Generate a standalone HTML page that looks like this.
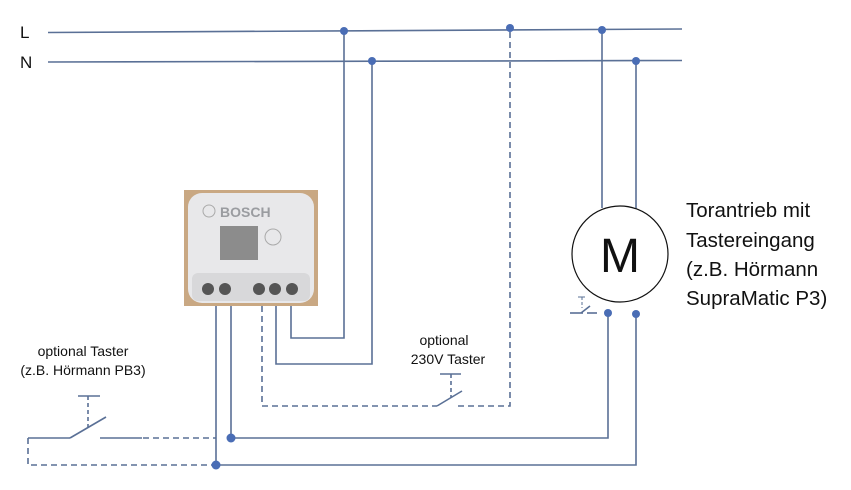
<!DOCTYPE html>
<html><head><meta charset="utf-8"><style>
html,body{margin:0;padding:0;background:#fff;width:851px;height:490px;overflow:hidden}
svg{display:block}
text{font-family:"Liberation Sans",sans-serif;fill:#111}
</style></head><body>
<svg width="851" height="490" viewBox="0 0 851 490">
<g stroke="#5a7096" stroke-width="1.6" fill="none">
<line x1="48" y1="32.5" x2="682" y2="29"/>
<line x1="48" y1="62" x2="682" y2="60.5"/>
<polyline points="344,31 344,338 291,338 291,306"/>
<polyline points="372,61 372,364 276,364 276,306"/>
<polyline stroke-dasharray="6,4" points="262,306 262,406 437,406"/>
<line x1="437" y1="406" x2="462" y2="391"/>
<polyline stroke-dasharray="6,4" points="458,406 510,406 510,28"/>
<line x1="440" y1="374" x2="461" y2="374"/>
<line x1="451" y1="374" x2="451" y2="398" stroke-dasharray="4,3"/>
<line x1="602" y1="30" x2="602" y2="208"/>
<line x1="636" y1="61" x2="636" y2="210"/>
<line x1="216" y1="306" x2="216" y2="465"/>
<line x1="231" y1="306" x2="231" y2="438"/>
<polyline points="231,438 608,438 608,313"/>
<polyline points="216,465 636,465 636,314"/>
<polyline points="70,438 28,438"/>
<polyline stroke-dasharray="6,4" points="28,438 28,465 216,465"/>
<line x1="70" y1="438" x2="106" y2="417"/>
<line x1="100" y1="438" x2="142" y2="438"/>
<line x1="143" y1="438" x2="216" y2="438" stroke-dasharray="6,4"/>
<line x1="78" y1="396" x2="100" y2="396"/>
<line x1="88" y1="396" x2="88" y2="427" stroke-dasharray="4,3"/>
<line x1="570" y1="313" x2="583" y2="313"/>
<line x1="581" y1="313" x2="590" y2="306"/>
<line x1="587" y1="313" x2="597" y2="313"/>
<line x1="578" y1="297" x2="585" y2="297" stroke-width="1"/>
<line x1="582" y1="297" x2="582" y2="308" stroke-dasharray="3,2" stroke-width="1"/>
</g>
<g fill="#4a6db5">
<circle cx="344" cy="31" r="4"/><circle cx="372" cy="61" r="4"/>
<circle cx="510" cy="28" r="4"/><circle cx="602" cy="30" r="4"/>
<circle cx="636" cy="61" r="4"/>
<circle cx="608" cy="313" r="4"/><circle cx="636" cy="314" r="4"/>
<circle cx="231" cy="438" r="4.5"/><circle cx="216" cy="465" r="4.5"/>
</g>
<circle cx="620" cy="254" r="48" fill="#fff" stroke="#111" stroke-width="1.2"/>
<text x="620" y="272" font-size="48" text-anchor="middle">M</text>
<rect x="184" y="190" width="134" height="116" fill="#c9a883"/>
<rect x="188" y="193" width="126" height="110" rx="14" fill="#e8e8ea"/>
<rect x="192" y="273" width="118" height="28" rx="6" fill="#d8d8da"/>
<text x="220" y="217" font-size="14" font-weight="bold" style="fill:#9a9ca0">BOSCH</text>
<circle cx="209" cy="211" r="6" fill="none" stroke="#aaa"/>
<rect x="220" y="226" width="38" height="34" fill="#8c8c8c"/>
<circle cx="273" cy="237" r="8" fill="none" stroke="#aaa"/>
<g fill="#555"><circle cx="208" cy="289" r="6"/><circle cx="225" cy="289" r="6"/><circle cx="259" cy="289" r="6"/><circle cx="275" cy="289" r="6"/><circle cx="292" cy="289" r="6"/></g>
<text x="20" y="38" font-size="17">L</text>
<text x="20" y="68" font-size="17">N</text>
<text x="83" y="356" font-size="14" text-anchor="middle">optional Taster</text>
<text x="83" y="375" font-size="14" text-anchor="middle">(z.B. Hörmann PB3)</text>
<text x="444" y="345" font-size="14" text-anchor="middle">optional</text>
<text x="448" y="364" font-size="14" text-anchor="middle">230V Taster</text>
<g font-size="20.5">
<text x="686" y="217">Torantrieb mit</text>
<text x="686" y="247">Tastereingang</text>
<text x="686" y="276">(z.B. Hörmann</text>
<text x="686" y="305">SupraMatic P3)</text>
</g>
</svg>
</body></html>
